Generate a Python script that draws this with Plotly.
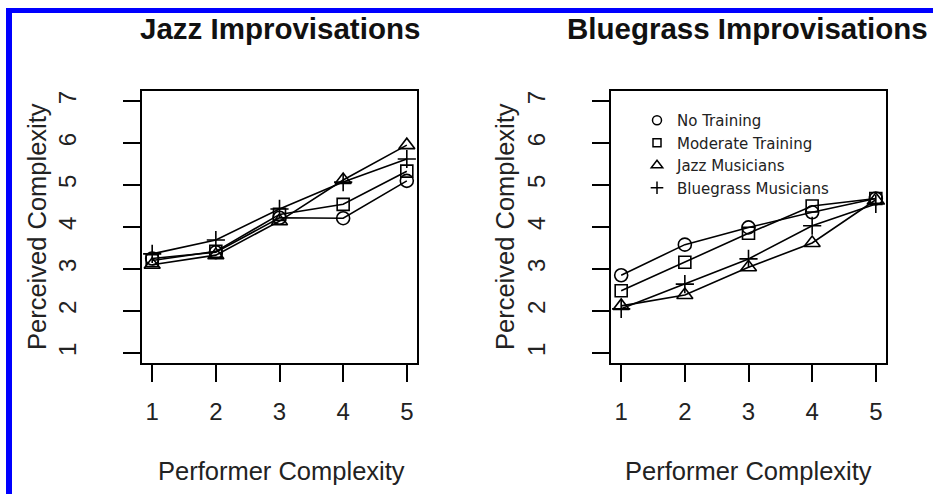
import plotly.graph_objects as go

# ---------------- data ----------------
x_vals = [1, 2, 3, 4, 5]
groups = ["No Training", "Moderate Training", "Jazz Musicians", "Bluegrass Musicians"]

jazz_no_training = [3.25, 3.40, 4.22, 4.21, 5.10]
jazz_moderate = [3.20, 3.42, 4.30, 4.54, 5.33]
jazz_jazz_mus = [3.10, 3.33, 4.14, 5.12, 5.95]
jazz_bluegrass_mus = [3.36, 3.69, 4.43, 5.07, 5.62]

blue_no_training = [2.85, 3.58, 3.99, 4.35, 4.68]
blue_moderate = [2.48, 3.16, 3.85, 4.50, 4.68]
blue_jazz_mus = [2.12, 2.38, 3.04, 3.62, 4.65]
blue_bluegrass_mus = [2.05, 2.64, 3.24, 4.03, 4.55]

panel_titles = ["Jazz Improvisations", "Bluegrass Improvisations"]
x_title = "Performer Complexity"
y_title = "Perceived Complexity"
y_ticks = [1, 2, 3, 4, 5, 6, 7]

symbols = ["circle-open", "square-open", "triangle-up-open", "cross-thin-open"]
sizes = [13, 12, 14, 13]
legend_sizes = [9, 8, 10, 9]

FONT = "Liberation Sans, Arial, sans-serif"
LEG_FONT = "DejaVu Sans, Liberation Sans, sans-serif"
W, H = 933, 494

fig = go.Figure()

jazz = [jazz_no_training, jazz_moderate, jazz_jazz_mus, jazz_bluegrass_mus]
blue = [blue_no_training, blue_moderate, blue_jazz_mus, blue_bluegrass_mus]

for i, ys in enumerate(jazz):
    fig.add_trace(go.Scatter(
        x=x_vals, y=ys, mode="lines+markers", xaxis="x", yaxis="y",
        line=dict(color="black", width=1.6),
        marker=dict(symbol=symbols[i], size=sizes[i], color="black",
                    line=dict(color="black", width=1.6)),
        showlegend=False, name=groups[i]))
for i, ys in enumerate(blue):
    fig.add_trace(go.Scatter(
        x=x_vals, y=ys, mode="lines+markers", xaxis="x2", yaxis="y2",
        line=dict(color="black", width=1.6),
        marker=dict(symbol=symbols[i], size=sizes[i], color="black",
                    line=dict(color="black", width=1.6)),
        showlegend=False, name=groups[i]))
# legend-only entries (symbols only)
for i, g in enumerate(groups):
    fig.add_trace(go.Scatter(
        x=[None], y=[None], mode="markers", xaxis="x2", yaxis="y2",
        marker=dict(symbol=symbols[i], size=legend_sizes[i], color="black",
                    line=dict(color="black", width=1.5)),
        name=g, showlegend=True))

ydom = [1 - 363 / H, 1 - 91 / H]
axis_common = dict(showgrid=False, zeroline=False, showline=True, mirror=True,
                   linecolor="black", linewidth=1.5, ticks="outside", ticklen=17,
                   tickwidth=1.5, tickcolor="black",
                   tickfont=dict(family=FONT, size=24, color="#222"))
fig.update_layout(
    width=W, height=H,
    margin=dict(l=0, r=0, t=0, b=0),
    paper_bgcolor="white", plot_bgcolor="white",
    xaxis=dict(domain=[142 / W, 417 / W], range=[0.84, 5.16], tickvals=x_vals,
               anchor="y", ticklabelstandoff=9, **axis_common),
    yaxis=dict(domain=ydom, range=[0.76, 7.24], tickvals=y_ticks, tickangle=-90,
               anchor="x", ticklabelstandoff=38, **axis_common),
    xaxis2=dict(domain=[611 / W, 886 / W], range=[0.84, 5.16], tickvals=x_vals,
                anchor="y2", ticklabelstandoff=9, **axis_common),
    yaxis2=dict(domain=ydom, range=[0.76, 7.24], tickvals=y_ticks, tickangle=-90,
                anchor="x2", ticklabelstandoff=38, **axis_common),
    legend=dict(x=637 / W, y=1 - 104 / H, xanchor="left", yanchor="top",
                bgcolor="rgba(0,0,0,0)", borderwidth=0, tracegroupgap=0,
                font=dict(family=LEG_FONT, size=15, color="#222")),
    showlegend=True,
)

ann = []
for cx, t in [(280, panel_titles[0]), (747, panel_titles[1])]:
    ann.append(dict(x=cx / W, y=1 - 29 / H, xref="paper", yref="paper", text="<b>%s</b>" % t,
                    showarrow=False, xanchor="center", yanchor="middle",
                    font=dict(family=FONT, size=29.5, color="#111")))
for cx in [281, 748]:
    ann.append(dict(x=cx / W, y=1 - 471 / H, xref="paper", yref="paper", text=x_title,
                    showarrow=False, xanchor="center", yanchor="middle",
                    font=dict(family=FONT, size=25.5, color="#222")))
for cx in [37, 505]:
    ann.append(dict(x=cx / W, y=1 - 227 / H, xref="paper", yref="paper", text=y_title,
                    showarrow=False, xanchor="center", yanchor="middle", textangle=-90,
                    font=dict(family=FONT, size=25.5, color="#222")))
fig.update_layout(annotations=ann)

# blue frame on top and left edges
fig.add_shape(type="rect", xref="paper", yref="paper", x0=6 / W, x1=1.01,
              y0=1 - 13 / H, y1=1 - 8 / H, fillcolor="#0000ff", line=dict(width=0))
fig.add_shape(type="rect", xref="paper", yref="paper", x0=6 / W, x1=12 / W,
              y0=-0.01, y1=1 - 8 / H, fillcolor="#0000ff", line=dict(width=0))

fig.write_html("out.html", config={"displayModeBar": False},
               post_script="document.body.style.margin='0px';")
